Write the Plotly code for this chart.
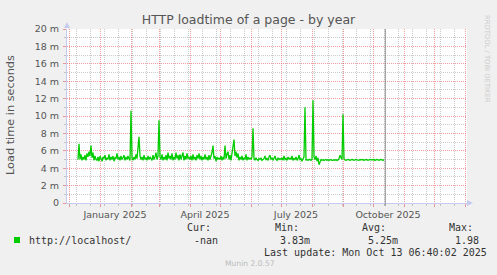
import pandas as pd
import plotly.graph_objects as go

# ---------------- data (load time in milliseconds, one value per day) ----------------
dec_2024 = [5.0, 6.8, 5.0, 5.6, 4.9, 5.3, 5.0, 5.5, 4.9, 5.7, 5.3, 5.9, 5.4, 6.6, 5.2, 5.8,
            4.9, 5.4, 5.0, 4.9, 5.3, 4.8]  # from Dec 10
jan_2025 = [5.4, 5.0, 4.8, 5.3, 5.1, 5.5, 4.9, 5.2, 5.0, 5.6, 4.9, 5.3, 5.0, 5.4, 4.8, 5.2,
            5.1, 5.7, 5.0, 5.3, 4.9, 5.4, 5.0, 5.2, 5.5, 4.9, 5.3, 5.0, 5.4, 5.1, 4.9]
feb_2025 = [10.6, 5.2, 4.9, 5.3, 5.0, 5.6, 5.1, 6.2, 7.6, 5.4, 5.0, 5.3, 4.9, 5.5, 5.0, 5.2,
            4.9, 5.4, 5.0, 5.3, 5.1, 4.9, 5.5, 5.0, 5.3, 5.8, 5.0, 5.4]
mar_2025 = [9.5, 5.3, 5.0, 5.6, 4.9, 5.3, 5.0, 5.5, 4.9, 5.8, 5.1, 5.4, 5.0, 5.7, 4.9, 5.3,
            5.0, 5.8, 5.1, 5.5, 4.9, 5.6, 5.0, 5.3, 5.8, 4.9, 5.4, 5.0, 5.7, 5.1, 5.3]
apr_2025 = [5.0, 5.4, 4.9, 5.6, 5.0, 5.3, 4.9, 5.5, 5.1, 5.7, 5.0, 5.4, 4.9, 5.3, 5.0, 5.6,
            5.0, 5.3, 4.9, 5.5, 5.0, 5.3, 5.8, 6.6, 5.1, 5.4, 4.8, 5.3, 5.0, 5.2]
may_2025 = [5.0, 5.4, 4.9, 5.3, 5.0, 6.6, 5.1, 5.6, 5.9, 5.0, 5.5, 4.9, 5.8, 6.2, 7.3, 5.4,
            5.9, 5.2, 5.7, 4.9, 5.3, 5.0, 5.4, 4.9, 5.2, 5.0, 5.6, 4.9, 5.3, 5.0, 5.2]
jun_2025 = [5.0, 5.3, 8.6, 5.1, 4.9, 5.2, 5.0, 4.9, 5.1, 5.0, 5.2, 4.9, 5.0, 5.1, 5.4, 5.0,
            5.1, 4.9, 5.3, 5.5, 5.0, 5.2, 4.9, 5.1, 5.4, 5.0, 4.9, 5.2, 5.0, 5.1]
jul_2025 = [5.0, 5.2, 4.9, 5.4, 5.0, 5.1, 4.9, 5.3, 5.0, 5.2, 5.0, 5.4, 4.9, 5.1, 5.0, 5.3,
            4.9, 5.1, 5.5, 5.0, 5.1, 4.8, 5.0, 5.3, 11.0, 4.9, 5.0, 4.9, 5.0, 5.0, 4.9]
aug_2025 = [5.0, 11.8, 5.3, 5.0, 5.4, 4.8, 5.2, 4.4, 4.8, 5.0, 4.9, 5.0, 4.9, 5.0, 5.0, 4.9,
            5.0, 4.9, 4.95, 5.0, 4.9, 4.9, 5.0, 4.9, 5.0, 4.9, 4.95, 5.1, 5.5, 5.2, 5.0]
sep_2025 = [10.2, 5.1, 4.95, 4.9, 4.95, 5.0, 4.95, 4.9, 4.95, 5.0, 4.95, 4.9, 4.95, 5.0, 4.95,
            4.95, 4.9, 5.0, 4.95, 4.95, 5.0, 4.9, 4.95, 5.0, 4.95, 4.9, 4.95, 5.0, 4.95, 4.95]
oct_2025 = [4.95, 5.0, 4.9, 4.95, 5.0, 4.95, 4.9, 4.95, 5.0, 4.95, 4.9, 5.0]

month_series = [
    ("2024-12-10", dec_2024), ("2025-01-01", jan_2025), ("2025-02-01", feb_2025),
    ("2025-03-01", mar_2025), ("2025-04-01", apr_2025), ("2025-05-01", may_2025),
    ("2025-06-01", jun_2025), ("2025-07-01", jul_2025), ("2025-08-01", aug_2025),
    ("2025-09-01", sep_2025), ("2025-10-01", oct_2025),
]

x_range = ["2024-11-29", "2026-01-03"]
now_time = "2025-10-13 06:40:02"

month_label_text = {"2025-01-01": "January 2025", "2025-04-01": "April 2025",
                    "2025-07-01": "July 2025", "2025-10-01": "October 2025"}

ytick_vals = [0, 2, 4, 6, 8, 10, 12, 14, 16, 18, 20]
ytick_text = ["0", "2 m", "4 m", "6 m", "8 m", "10 m", "12 m", "14 m", "16 m", "18 m", "20 m"]
yminor_vals = [1, 3, 5, 7, 9, 11, 13, 15, 17, 19]

series_name = "http://localhost/"
stat_names = ["Cur:", "Min:", "Avg:", "Max:"]
stat_values = ["-nan", "3.83m", "5.25m", "1.98"]
last_update = "Last update: Mon Oct 13 06:40:02 2025"
title_text = "HTTP loadtime of a page - by year"
y_title = "Load time in seconds"
footer = "Munin 2.0.57"
watermark = "RRDTOOL / TOBI OETIKER"

# ---------------- build ----------------
dates, vals = [], []
for start, arr in month_series:
    dates += list(pd.date_range(start, periods=len(arr), freq="D"))
    vals += arr

month_starts = pd.date_range("2024-12-01", "2026-01-01", freq="MS")
month_ticktext = [month_label_text.get(d.strftime("%Y-%m-%d"), "") for d in month_starts]
minor_grid = pd.date_range("2024-12-08", "2026-01-03", freq="14D")

W, H = 497, 275
L, R, T, B = 67, 467, 29, 203


def px(x):
    return (x - L) / (R - L)


def py(y):
    return (B - y) / (B - T)


MGRID = "rgba(225,60,60,0.5)"
GRID = "rgba(140,140,140,0.45)"
AXIS = "#C6CAEE"
GREEN = "#00CC00"

fig = go.Figure()
fig.add_trace(go.Scatter(x=dates, y=vals, mode="lines",
                         line=dict(color=GREEN, width=1.3), hoverinfo="skip"))

fig.update_layout(
    width=W, height=H,
    margin=dict(l=L, r=W - R, t=T, b=H - B, pad=0),
    paper_bgcolor="#F0F0F0", plot_bgcolor="#FFFFFF",
    showlegend=False,
    font=dict(family="DejaVu Sans", size=9.5, color="#555555"),
    title=dict(text=title_text, x=0.5, xanchor="center", xref="container",
               y=1 - 19.5 / H, yanchor="middle", yref="container",
               font=dict(family="DejaVu Sans", size=12.5, color="#555555")),
    xaxis=dict(type="date", range=x_range, tickmode="array",
               tickvals=month_starts, ticktext=month_ticktext, ticklabelshift=15,
               showgrid=True, gridcolor=MGRID, griddash="1px,1px", gridwidth=1,
               ticks="outside", ticklen=3, tickcolor=MGRID, tickwidth=1,
               showline=True, linecolor=AXIS, linewidth=1, zeroline=False,
               tickfont=dict(size=9.5, color="#555555"),
               minor=dict(tickmode="array", tickvals=minor_grid, showgrid=True,
                          gridcolor=GRID, griddash="1px,1px", gridwidth=1,
                          ticks="outside", ticklen=2, tickcolor=GRID),
               fixedrange=True),
    yaxis=dict(range=[0, 20], tickmode="array", tickvals=ytick_vals, ticktext=ytick_text,
               showgrid=True, gridcolor=MGRID, griddash="1px,1px", gridwidth=1,
               ticks="outside", ticklen=3, tickcolor=MGRID, tickwidth=1,
               showline=True, linecolor=AXIS, linewidth=1, zeroline=False,
               ticklabelstandoff=2,
               tickfont=dict(size=9.5, color="#555555"),
               minor=dict(tickmode="array", tickvals=yminor_vals, showgrid=True,
                          gridcolor=GRID, griddash="1px,1px", gridwidth=1,
                          ticks="outside", ticklen=2, tickcolor=GRID),
               fixedrange=True),
)

# "now" rule
fig.add_shape(type="line", xref="x", yref="paper", x0=now_time, x1=now_time,
              y0=py(206), y1=1, line=dict(color="#8C8C8C", width=1))
# axis arrows
fig.add_shape(type="path", xref="paper", yref="paper",
              path=f"M {px(467)} {py(200)} L {px(473)} {py(203)} L {px(467)} {py(206)} Z",
              fillcolor=AXIS, line=dict(width=0))
fig.add_shape(type="path", xref="paper", yref="paper",
              path=f"M {px(64)} {py(28)} L {px(67)} {py(22)} L {px(70)} {py(28)} Z",
              fillcolor=AXIS, line=dict(width=0))
# legend swatch
fig.add_shape(type="rect", xref="paper", yref="paper",
              x0=px(14), x1=px(20), y0=py(243), y1=py(237),
              fillcolor=GREEN, line=dict(width=0))

MONO = dict(family="DejaVu Sans Mono", size=10, color="#333333")


def note(text, x, y, font, anchor="left", angle=0):
    fig.add_annotation(text=text, xref="paper", yref="paper", x=px(x), y=py(y),
                       xanchor=anchor, yanchor="middle", showarrow=False,
                       font=font, textangle=angle)


note(y_title, 11, 115, dict(family="DejaVu Sans", size=11.3, color="#555555"),
     anchor="center", angle=-90)
stat_x = [185, 272.7, 360, 446.7]
value_x = [192, 278, 366, 453]
for name, xx in zip(stat_names, stat_x):
    note(name, xx, 227.5, MONO)
note(series_name, 26.5, 240, MONO)
for v, xx in zip(stat_values, value_x):
    note(v, xx, 240, MONO)
note(last_update, 261.5, 252, MONO)
note(footer, 223, 263.5, dict(family="DejaVu Sans", size=7.6, color="#BBBBBB"))
note(watermark, 487.5, 58.5, dict(family="DejaVu Sans", size=6.8, color="#CCCCCC"),
     anchor="center", angle=90)

fig.write_html("out.html")
